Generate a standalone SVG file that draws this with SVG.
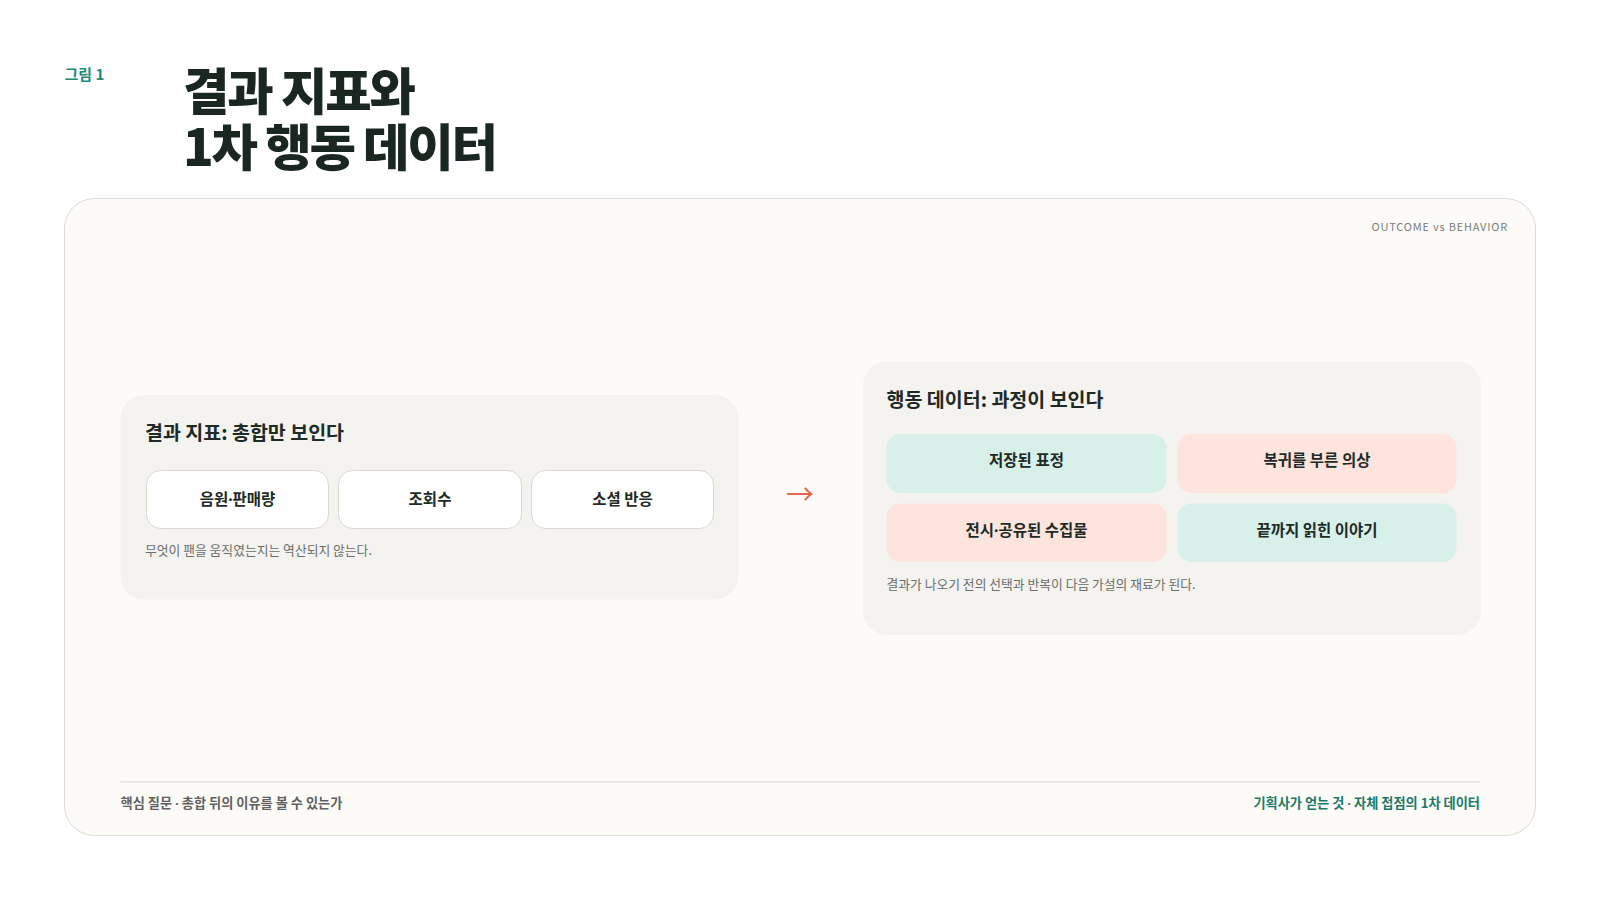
<svg xmlns="http://www.w3.org/2000/svg" width="1600" height="900" viewBox="0 0 1600 900">
<style>
text{font-family:"Noto Sans CJK KR","Noto Sans",sans-serif}
.dot{font-family:"Noto Sans",sans-serif}
.panel{fill:#f4f3ef}
.chip{fill:#ffffff;stroke:#dcd9d2;stroke-width:1}
.teal{fill:#d8f0ea}
.peach{fill:#fde4dc}
.ptitle{font-size:19.5px;font-weight:700;fill:#1e2a26}
.clab{font-size:15.5px;font-weight:700;fill:#1e2a26;text-anchor:middle}
.cap{font-size:12.8px;fill:#6b6e6b}
</style>
<rect x="0" y="0" width="1600" height="900" fill="#ffffff"/>
<text x="64.5" y="80" font-size="15" font-weight="700" fill="#1d8a78">그림 1</text>
<text x="183" y="109.5" font-size="50.5" font-weight="900" fill="#1a2620" letter-spacing="-2.2">결과 지표와</text>
<text x="183" y="166" font-size="50.5" font-weight="900" fill="#1a2620" letter-spacing="-2.2">1차 행동 데이터</text>
<rect x="64.5" y="198.5" width="1471" height="637" rx="30" fill="#fcfbf8" stroke="#dedbd4"/>
<text x="1508" y="230.5" font-size="11" fill="#7a7d7a" text-anchor="end" letter-spacing="0.8" font-family="'Open Sans',sans-serif">OUTCOME vs BEHAVIOR</text>
<g id="outcome">
<rect class="panel" x="120.5" y="395" width="618" height="204.5" rx="24"/>
<text class="ptitle" x="145" y="440">결과 지표: 총합만 보인다</text>
<text class="cap" x="145" y="555">무엇이 팬을 움직였는지는 역산되지 않는다.</text>
</g>
<g id="chip-sales"><rect class="chip" x="146.5" y="470.5" width="182" height="58" rx="14"/><text class="clab" x="237.5" y="505">음원<tspan class="dot">·</tspan>판매량</text></g>
<g id="chip-views"><rect class="chip" x="338.5" y="470.5" width="183" height="58" rx="14"/><text class="clab" x="430" y="505">조회수</text></g>
<g id="chip-social"><rect class="chip" x="531.5" y="470.5" width="182" height="58" rx="14"/><text class="clab" x="622.5" y="505">소셜 반응</text></g>
<g id="connectors">
<text x="800" y="504.5" font-size="28" fill="#e4654a" text-anchor="middle" font-family="'DejaVu Sans',sans-serif">→</text>
</g>
<g id="behavior">
<rect class="panel" x="863" y="361.5" width="618" height="273.5" rx="24"/>
<text class="ptitle" x="886.5" y="406.5">행동 데이터: 과정이 보인다</text>
<text class="cap" x="886.5" y="588.5">결과가 나오기 전의 선택과 반복이 다음 가설의 재료가 된다.</text>
</g>
<g id="card-expr"><rect class="teal" x="886.5" y="434" width="280" height="59" rx="14"/><text class="clab" x="1026.5" y="466">저장된 표정</text></g>
<g id="card-costume"><rect class="peach" x="1177.5" y="434" width="279" height="59" rx="14"/><text class="clab" x="1317" y="466">복귀를 부른 의상</text></g>
<g id="card-collect"><rect class="peach" x="886.5" y="503.5" width="280" height="58.5" rx="14"/><text class="clab" x="1026.5" y="535.5">전시<tspan class="dot">·</tspan>공유된 수집물</text></g>
<g id="card-story"><rect class="teal" x="1177.5" y="503.5" width="279" height="58.5" rx="14"/><text class="clab" x="1317" y="535.5">끝까지 읽힌 이야기</text></g>
<line x1="120.5" y1="782" x2="1480" y2="782" stroke="#d9d6cf" stroke-width="1"/>
<text x="120.5" y="808" font-size="13.2" font-weight="700" fill="#5f625f">핵심 질문 <tspan class="dot">·</tspan> 총합 뒤의 이유를 볼 수 있는가</text>
<text x="1480" y="808" font-size="13.2" font-weight="700" fill="#1b7a68" text-anchor="end">기획사가 얻는 것 <tspan class="dot">·</tspan> 자체 접점의 1차 데이터</text>
</svg>
